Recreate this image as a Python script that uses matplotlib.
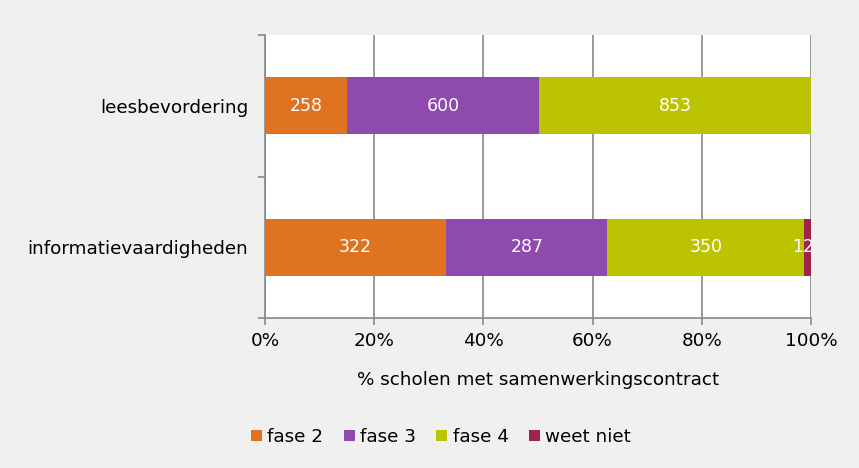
import matplotlib

matplotlib.use("Agg")
import matplotlib.pyplot as plt
import numpy as np
from matplotlib.patches import Patch

categories = ["informatievaardigheden", "leesbevordering"]
series_names = ["fase 2", "fase 3", "fase 4", "weet niet"]
counts = {
    "fase 2": [322, 258],
    "fase 3": [287, 600],
    "fase 4": [350, 853],
    "weet niet": [12, 0],
}
colors = ["#E07322", "#8E4AAD", "#BCC402", "#A0234A"]
x_ticks = [0, 20, 40, 60, 80, 100]

plt.rcParams["font.family"] = ["DejaVu Sans"]
fs = 13.2

fig = plt.figure(figsize=(8.59, 4.68), dpi=100, facecolor="#f0f0f0")
ax = fig.add_axes([265 / 859, 1 - 318 / 468, 546 / 859, 283 / 468])
ax.set_facecolor("white")

totals = np.sum([counts[s] for s in series_names], axis=0)
y = np.arange(len(categories))
left = np.zeros(len(categories))
for name, color in zip(series_names, colors):
    vals = np.array(counts[name], dtype=float)
    pct = vals / totals * 100
    ax.barh(y, pct, left=left, height=0.4, color=color, zorder=3)
    for yi, v, p, l in zip(y, vals, pct, left):
        if v > 0:
            # keep small labels inside the plot area, like the original
            xc = min(l + p / 2, 98.6)
            ax.text(xc, yi, f"{int(v)}", ha="center", va="center",
                    color="white", fontsize=12.5, zorder=4, clip_on=True)
    left += pct

ax.set_xlim(0, 100)
ax.set_ylim(-0.5, 1.5)
ax.set_xticks(x_ticks)
ax.set_xticklabels([f"{t}%" for t in x_ticks], fontsize=fs)
ax.set_yticks([-0.5, 0.5, 1.5])
ax.set_yticklabels([])
ax.set_yticks(y, minor=True)
ax.set_yticklabels(categories, minor=True, fontsize=fs)
ax.tick_params(axis="y", which="minor", length=0, pad=12)
ax.tick_params(axis="y", which="major", length=5, color="#888888", width=1.2)
ax.tick_params(axis="x", length=5, color="#888888", width=1.2, pad=5)
ax.grid(axis="x", color="#888888", linewidth=1.2, zorder=0)
ax.set_axisbelow(True)
for side in ["top", "right"]:
    ax.spines[side].set_visible(False)
for side in ["left", "bottom"]:
    ax.spines[side].set_color("#888888")
    ax.spines[side].set_linewidth(1.2)
ax.set_xlabel("% scholen met samenwerkingscontract", fontsize=fs, labelpad=15)

handles = [Patch(facecolor=c, edgecolor="none") for c in colors]
fig.legend(handles, series_names, loc="center", bbox_to_anchor=(441 / 859, 1 - 437 / 468),
           ncol=4, frameon=False, fontsize=fs, handlelength=0.6, handleheight=0.6,
           handletextpad=0.3, columnspacing=1.1)

fig.savefig("out.png", dpi=100, facecolor=fig.get_facecolor())
